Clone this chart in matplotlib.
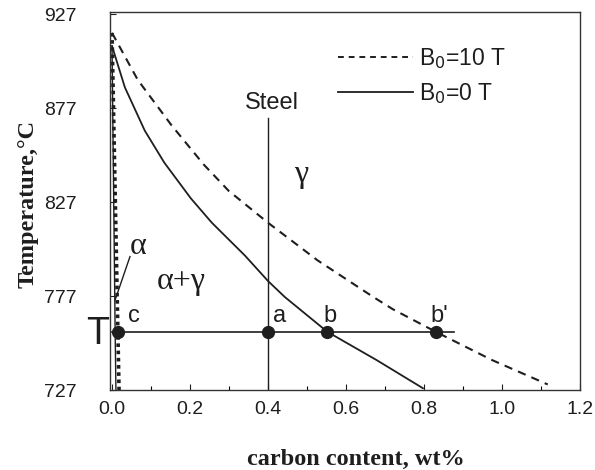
""" plot.py - Fe-C phase diagram detail, B0=0 T vs B0=10 T """

import matplotlib.pyplot as plt
from matplotlib.ticker import MultipleLocator

# gamma / (alpha+gamma) boundary, B0 = 0 T
c_b0 = [0.0, 0.033, 0.084, 0.134, 0.202, 0.256, 0.341, 0.40, 0.443,
        0.552, 0.678, 0.797]
t_b0 = [910, 888, 865, 848, 829, 816, 798.5, 785, 776.5, 758, 743, 728]

# gamma / (alpha+gamma) boundary, B0 = 10 T
c_b10 = [0.0, 0.066, 0.152, 0.235, 0.299, 0.40, 0.527, 0.67, 0.72, 0.83,
         0.974, 1.117]
t_b10 = [917, 892, 868, 847, 833, 816, 796, 776.5, 770, 758, 743, 730]

# alpha solvus lines near c = 0
c_alpha0 = [0.0, 0.008, 0.010]
t_alpha0 = [910, 758, 727]
c_alpha10 = [0.0, 0.015, 0.018]
t_alpha10 = [917, 758, 727]

T_line = 758
steel_c = 0.40
steel_top = 872
tie_end = 0.876

pts_c = [0.015, 0.40, 0.552, 0.83]
pts_lab = ["c", "a", "b", "b'"]
lab_c = [0.055, 0.43, 0.56, 0.838]

xticks = [0.0, 0.2, 0.4, 0.6, 0.8, 1.0, 1.2]
yticks = [727, 777, 827, 877, 927]

col = "#1e1e1e"
greek = ['Liberation Serif', 'DejaVu Serif']
plt.rcParams['font.family'] = ['Liberation Sans', 'DejaVu Sans']

fig = plt.figure(figsize=(5.95, 4.7), dpi=100)
ax = fig.add_axes([0.185, 0.170, 0.790, 0.804])

ax.plot(c_b10, t_b10, color=col, lw=1.5, ls=(0, (4, 3)))
ax.plot(c_b0, t_b0, color=col, lw=1.3)
ax.plot(c_alpha10, t_alpha10, color=col, lw=2.6, ls=(0, (1, 1)))
ax.plot(c_alpha0, t_alpha0, color=col, lw=1.0)

ax.plot([0.0, tie_end], [T_line, T_line], color=col, lw=1.2)
ax.plot([steel_c, steel_c], [727, steel_top], color=col, lw=1.0)
ax.plot(pts_c, [T_line] * len(pts_c), 'o', color=col, ms=8.5)

for x, s in zip(lab_c, pts_lab):
    ax.text(x, 760.5, s, fontsize=17, color=col, ha='center', va='bottom')

ax.text(0.41, 874, "Steel", fontsize=17, color=col, ha='center', va='bottom')
ax.text(0.484, 841.5, "γ", fontsize=23, color=col, ha='center', va='center',
        family=greek)
ax.text(0.177, 785, "α+γ", fontsize=23, color=col, ha='center', va='center',
        family=greek)
ax.text(0.068, 803.5, "α", fontsize=23, color=col, ha='center', va='center',
        family=greek)
ax.plot([0.046, 0.008], [798, 775], color=col, lw=1.0)
ax.text(-0.038, 757, "T", fontsize=27, color=col, ha='center', va='center',
        clip_on=False)

# legend
ax.plot([], [], color=col, lw=1.4, ls=(0, (3, 2.5)), label=r"B$_0$=10 T")
ax.plot([], [], color=col, lw=1.3, label=r"B$_0$=0 T")
h, l = ax.get_legend_handles_labels()
ax.legend(h, l, loc='upper left', bbox_to_anchor=(0.44, 0.965), frameon=False,
          fontsize=16.5, handlelength=3.3, handletextpad=0.25, labelspacing=0.45,
          labelcolor=col)

ax.set_xlim(-0.005, 1.2)
ax.set_ylim(727, 928)
ax.set_xticks(xticks)
ax.set_xticklabels(["%.1f" % v for v in xticks])
ax.xaxis.set_minor_locator(MultipleLocator(0.1))
ax.set_yticks(yticks)
ax.tick_params(direction='in', length=4, width=0.8, labelsize=14, colors=col)
ax.tick_params(axis='x', which='minor', direction='in', length=3, width=0.8)
ax.tick_params(axis='y', pad=24)
ax.tick_params(axis='x', pad=8)
for sp in ax.spines.values():
    sp.set_color("#333333")
    sp.set_linewidth(1.0)

ax.set_xlabel("carbon content, wt%", fontsize=17.5, fontweight='bold',
              family='Liberation Serif', color=col)
ax.set_ylabel("Temperature,°C", fontsize=17.5, fontweight='bold',
              family='Liberation Serif', color=col)
ax.xaxis.set_label_coords(0.523, -0.156)
ax.yaxis.set_label_coords(-0.153, 0.492)

plt.savefig("out.png")
